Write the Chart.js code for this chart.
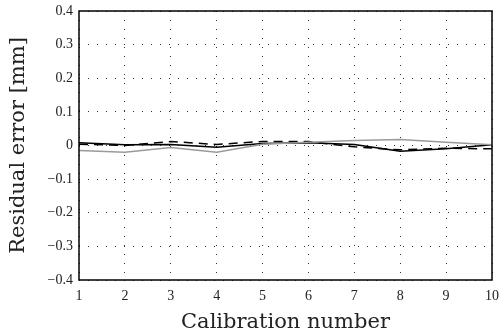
<!DOCTYPE html>
<html>
<head>
<meta charset="utf-8">
<script src="https://cdn.jsdelivr.net/npm/chart.js@4"></script>
<style>
 html, body { margin: 0; padding: 0; background: #fff; }
 #wrap { width: 499px; height: 335px; }
</style>
</head>
<body>
<div id="wrap"><canvas id="residual-chart" width="499" height="335"></canvas></div>
<script>
var calibrationNumbers = [1, 2, 3, 4, 5, 6, 7, 8, 9, 10];

// (mm)
var graySolid = [-0.015, -0.02, -0.006, -0.02, 0.004, 0.01, 0.015, 0.018, 0.01, 0.002];
var blackSolid = [0.008, 0.002, 0.003, -0.005, 0.006, 0.008, 0.003, -0.017, -0.01, 0.002];
var blackDashed = [0.004, 0.0, 0.012, 0.003, 0.012, 0.012, -0.004, -0.013, -0.008, -0.01];

var yTicks = [-0.4, -0.3, -0.2, -0.1, 0, 0.1, 0.2, 0.3, 0.4];

var serif = "'Liberation Serif', 'DejaVu Serif', serif";
var titleSerif = "'DejaVu Serif', 'Liberation Serif', serif";

function formatTick(v) {
 if (Math.abs(v) < 1e-9) return "0";
 var s = Math.abs(v).toFixed(1);
 return v < 0 ? "\u2212" + s : s;
}

// black frame round the plot area
var framePlugin = {
 id: "frame",
 afterDraw: function (chart) {
  var a = chart.chartArea;
  var ctx = chart.ctx;
  ctx.save();
  ctx.strokeStyle = "#000";
  ctx.lineWidth = 1.5;
  ctx.strokeRect(a.left, a.top, a.right - a.left, a.bottom - a.top);
  ctx.restore();
 },
};

var ctx = document.getElementById("residual-chart");

new Chart(ctx, {
 type: "line",
 data: {
  labels: calibrationNumbers,
  datasets: [
   {
    label: "gray",
    data: graySolid,
    borderColor: "#9a9a9a",
    borderWidth: 1.5,
    pointRadius: 0,
    tension: 0,
   },
   {
    label: "solid",
    data: blackSolid,
    borderColor: "#000",
    borderWidth: 1.5,
    pointRadius: 0,
    tension: 0,
   },
   {
    label: "dashed",
    data: blackDashed,
    borderColor: "#000",
    borderWidth: 1.5,
    borderDash: [9, 6],
    pointRadius: 0,
    tension: 0,
   },
  ],
 },
 options: {
  responsive: false,
  animation: false,
  layout: {
   padding: { left: 0, right: 7, top: 11, bottom: 0 },
  },
  plugins: {
   legend: { display: false },
   tooltip: { enabled: false },
  },
  scales: {
   x: {
    type: "category",
    offset: false,
    grid: {
     color: "#333",
     lineWidth: 1,
     drawTicks: false,
    },
    border: { display: false, dash: [1, 8] },
    ticks: {
     color: "#222",
     font: { family: serif, size: 14 },
     padding: 8,
     maxRotation: 0,
    },
    title: {
     display: true,
     text: "Calibration number",
     color: "#222",
     font: { family: titleSerif, size: 21 },
     padding: { top: 4, bottom: 0 },
    },
    afterFit: function (scale) {
     scale.height = 55;
     scale.paddingLeft = 0;
     scale.paddingRight = 0;
    },
   },
   y: {
    min: -0.4,
    max: 0.4,
    afterBuildTicks: function (scale) {
     scale.ticks = yTicks.map(function (v) {
      return { value: v };
     });
    },
    grid: {
     color: "#333",
     lineWidth: 1,
     drawTicks: false,
    },
    border: { display: false, dash: [1, 8] },
    ticks: {
     color: "#222",
     font: { family: serif, size: 14 },
     padding: 6,
     callback: function (v) {
      return formatTick(v);
     },
    },
    title: {
     display: true,
     text: "Residual error [mm]",
     color: "#222",
     font: { family: titleSerif, size: 21 },
     padding: { top: 6, bottom: 4 },
    },
    afterFit: function (scale) {
     scale.width = 79;
     scale.paddingTop = 0;
     scale.paddingBottom = 0;
    },
   },
  },
 },
 plugins: [framePlugin],
});
</script>
</body>
</html>
